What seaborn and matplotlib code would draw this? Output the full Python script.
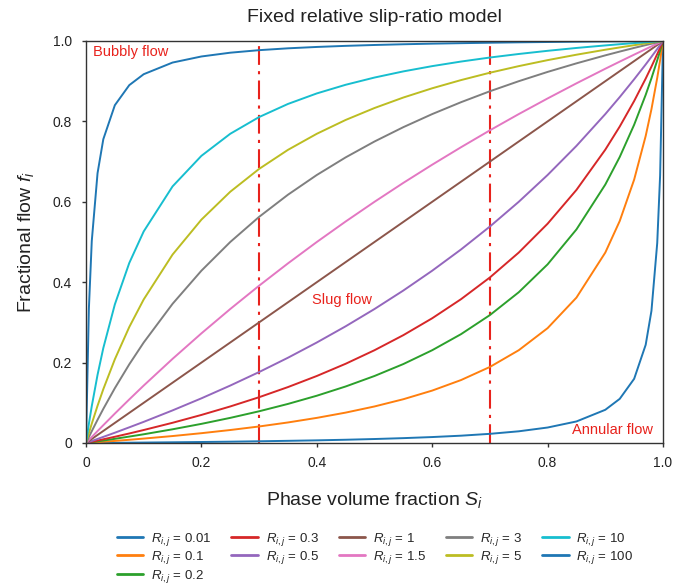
import matplotlib
matplotlib.use("Agg")
import matplotlib.pyplot as plt
import seaborn as sns
import pandas as pd
from matplotlib.ticker import FuncFormatter

# ---------------- data ----------------
S = [0, 0.005, 0.01, 0.02, 0.03, 0.05, 0.075, 0.1, 0.15, 0.2, 0.25, 0.3, 0.35,
     0.4, 0.45, 0.5, 0.55, 0.6, 0.65, 0.7, 0.75, 0.8, 0.85, 0.9, 0.925, 0.95,
     0.97, 0.98, 0.99, 0.995, 1.0]

f_R001 = [0, 0.0001, 0.0001, 0.0002, 0.0003, 0.0005, 0.0008, 0.0011, 0.0018, 0.0025,
          0.0033, 0.0043, 0.0054, 0.0066, 0.0081, 0.0099, 0.0121, 0.0148, 0.0182, 0.0228,
          0.0291, 0.0385, 0.0536, 0.0826, 0.1098, 0.1597, 0.2443, 0.3289, 0.4975, 0.6656, 1.0]
f_R01 = [0, 0.0005, 0.0010, 0.0020, 0.0031, 0.0052, 0.0080, 0.0110, 0.0173, 0.0244,
         0.0323, 0.0411, 0.0511, 0.0625, 0.0756, 0.0909, 0.1089, 0.1304, 0.1566, 0.1892,
         0.2308, 0.2857, 0.3617, 0.4737, 0.5522, 0.6552, 0.7638, 0.8305, 0.9083, 0.9522, 1.0]
f_R02 = [0, 0.0010, 0.0020, 0.0041, 0.0061, 0.0104, 0.0160, 0.0217, 0.0341, 0.0476,
         0.0625, 0.0789, 0.0972, 0.1176, 0.1406, 0.1667, 0.1964, 0.2308, 0.2708, 0.3182,
         0.375, 0.4444, 0.5313, 0.6429, 0.7115, 0.7917, 0.8661, 0.9074, 0.9519, 0.9755, 1.0]
f_R03 = [0, 0.0015, 0.0030, 0.0061, 0.0092, 0.0155, 0.0237, 0.0323, 0.0503, 0.0698,
         0.0909, 0.1139, 0.1391, 0.1667, 0.1971, 0.2308, 0.2683, 0.3103, 0.3578, 0.4118,
         0.4737, 0.5455, 0.6296, 0.7297, 0.7872, 0.8507, 0.9065, 0.9363, 0.9674, 0.9835, 1.0]
f_R05 = [0, 0.0025, 0.0050, 0.0101, 0.0152, 0.0256, 0.0390, 0.0526, 0.0811, 0.1111,
         0.1429, 0.1765, 0.2121, 0.25, 0.2903, 0.3333, 0.3793, 0.4286, 0.4815, 0.5385,
         0.6, 0.6667, 0.7391, 0.8182, 0.8605, 0.9048, 0.9417, 0.9608, 0.9802, 0.9900, 1.0]
f_R1 = [0, 0.005, 0.01, 0.02, 0.03, 0.05, 0.075, 0.1, 0.15, 0.2, 0.25, 0.3, 0.35,
        0.4, 0.45, 0.5, 0.55, 0.6, 0.65, 0.7, 0.75, 0.8, 0.85, 0.9, 0.925, 0.95,
        0.97, 0.98, 0.99, 0.995, 1.0]
f_R15 = [0, 0.0075, 0.0149, 0.0297, 0.0443, 0.0732, 0.1084, 0.1429, 0.2093, 0.2727,
         0.3333, 0.3913, 0.4468, 0.5, 0.5510, 0.6, 0.6471, 0.6923, 0.7358, 0.7778,
         0.8182, 0.8571, 0.8947, 0.9310, 0.9487, 0.9661, 0.9798, 0.9866, 0.9933, 0.9967, 1.0]
f_R3 = [0, 0.0149, 0.0294, 0.0577, 0.0849, 0.1364, 0.1957, 0.25, 0.3462, 0.4286,
        0.5, 0.5625, 0.6176, 0.6667, 0.7105, 0.75, 0.7857, 0.8182, 0.8478, 0.875,
        0.9, 0.9231, 0.9444, 0.9643, 0.9737, 0.9828, 0.9898, 0.9932, 0.9966, 0.9983, 1.0]
f_R5 = [0, 0.0245, 0.0481, 0.0926, 0.1339, 0.2083, 0.2885, 0.3571, 0.4687, 0.5556,
        0.625, 0.6818, 0.7292, 0.7692, 0.8036, 0.8333, 0.8594, 0.8824, 0.9028, 0.9211,
        0.9375, 0.9524, 0.9659, 0.9783, 0.9840, 0.9896, 0.9939, 0.9959, 0.9980, 0.9990, 1.0]
f_R10 = [0, 0.0478, 0.0917, 0.1695, 0.2362, 0.3448, 0.4478, 0.5263, 0.6383, 0.7143,
         0.7692, 0.8108, 0.8434, 0.8696, 0.8911, 0.9091, 0.9244, 0.9375, 0.9489, 0.9589,
         0.9677, 0.9756, 0.9827, 0.9890, 0.9920, 0.9948, 0.9969, 0.9980, 0.9990, 0.9995, 1.0]
f_R100 = [0, 0.3344, 0.5025, 0.6711, 0.7557, 0.8403, 0.8902, 0.9174, 0.9464, 0.9615,
          0.9709, 0.9772, 0.9818, 0.9852, 0.9879, 0.9901, 0.9919, 0.9934, 0.9946, 0.9957,
          0.9967, 0.9975, 0.9982, 0.9989, 0.9992, 0.9995, 0.9997, 0.9998, 0.9999, 0.9999, 1.0]

R_labels = ["0.01", "0.1", "0.2", "0.3", "0.5", "1", "1.5", "3", "5", "10", "100"]
series = [f_R001, f_R01, f_R02, f_R03, f_R05, f_R1, f_R15, f_R3, f_R5, f_R10, f_R100]

tick_values = [0, 0.2, 0.4, 0.6, 0.8, 1.0]
boundaries = [0.3, 0.7]
region_labels = ["Bubbly flow", "Slug flow", "Annular flow"]

# ---------------- build long table ----------------
rows = []
for lab, vals in zip(R_labels, series):
    name = r"$R_{i,j}$ = " + lab
    for s, v in zip(S, vals):
        rows.append({"S": s, "f": v, "R": name})
df = pd.DataFrame(rows)
hue_order = [r"$R_{i,j}$ = " + lab for lab in R_labels]

# ---------------- style ----------------
sns.set_theme(style="white")
plt.rcParams["font.family"] = ["Liberation Sans", "DejaVu Sans"]
plt.rcParams["mathtext.fontset"] = "custom"
plt.rcParams["mathtext.rm"] = "Liberation Sans"
plt.rcParams["mathtext.it"] = "Liberation Sans:italic"
plt.rcParams["mathtext.bf"] = "Liberation Sans:bold"

tab10 = sns.color_palette("tab10", 10)
palette = [tab10[i % 10] for i in range(len(R_labels))]

fig = plt.figure(figsize=(6.88, 5.85), dpi=100)
ax = fig.add_axes([86 / 688, 1 - 443 / 585, (663 - 86) / 688, (443 - 41) / 585])

sns.lineplot(data=df, x="S", y="f", hue="R", hue_order=hue_order, palette=palette,
             estimator=None, sort=True, linewidth=1.4, ax=ax, legend=True)

red = "#e8221c"
for b in boundaries:
    ax.axvline(b, color=red, lw=1.5, linestyle=(0, (9, 3, 1.5, 3)), zorder=1)

ax.text(0.012, 0.973, region_labels[0], color=red, fontsize=10.5, ha="left", va="center")
ax.text(0.392, 0.356, region_labels[1], color=red, fontsize=10.5, ha="left", va="center")
ax.text(0.983, 0.032, region_labels[2], color=red, fontsize=10.5, ha="right", va="center")

ax.set_xlim(0, 1)
ax.set_ylim(0, 1)
ax.set_xticks(tick_values)
ax.set_yticks(tick_values)
fmt = FuncFormatter(lambda v, p: "0" if abs(v) < 1e-9 else f"{v:.1f}")
ax.xaxis.set_major_formatter(fmt)
ax.yaxis.set_major_formatter(fmt)
ax.tick_params(axis="both", which="major", direction="out", length=3, width=1,
               color="#333333", labelsize=10, labelcolor="#222222",
               bottom=True, left=True)
ax.tick_params(axis="x", pad=6.5)
ax.tick_params(axis="y", pad=7)

for sp in ax.spines.values():
    sp.set_color("#333333")
    sp.set_linewidth(1.0)

ax.set_title("Fixed relative slip-ratio model", fontsize=14, color="#222222", pad=13.5)
ax.set_xlabel(r"Phase volume fraction $S_i$", fontsize=14, color="#222222", labelpad=14)
ax.set_ylabel(r"Fractional flow $f_i$", fontsize=14, color="#222222", labelpad=12)

handles, labels = ax.get_legend_handles_labels()
ax.get_legend().remove()
leg = fig.legend(handles, labels, ncol=5, loc="upper center",
                 bbox_to_anchor=(375 / 688, 1 - 519 / 585), frameon=False,
                 fontsize=9.5, handlelength=2.0, handletextpad=0.6,
                 columnspacing=1.5, labelspacing=0.1)
for h in leg.get_lines():
    h.set_linewidth(2.0)

fig.savefig("out.png", dpi=100)
